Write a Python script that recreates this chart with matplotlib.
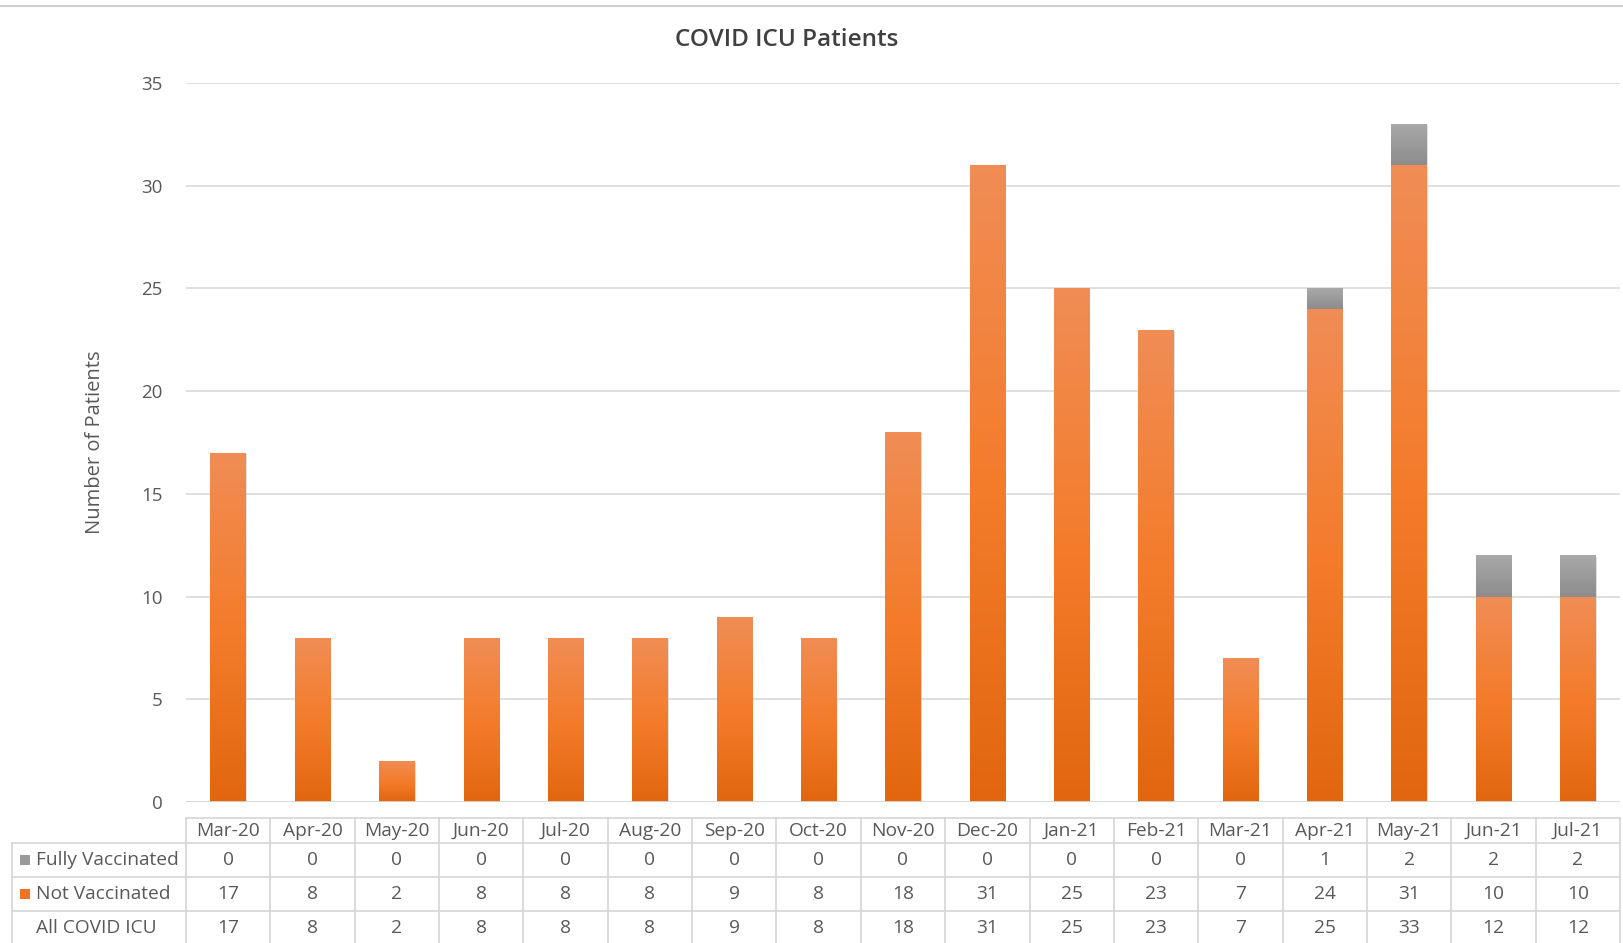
import numpy as np
import matplotlib
matplotlib.use("Agg")
from matplotlib import pyplot as plt
from matplotlib import transforms as mtransforms
from matplotlib.colors import LinearSegmentedColormap
from matplotlib.lines import Line2D

plt.rcParams['font.family'] = ['Open Sans', 'DejaVu Sans']

months = ['Mar-20', 'Apr-20', 'May-20', 'Jun-20', 'Jul-20', 'Aug-20', 'Sep-20',
          'Oct-20', 'Nov-20', 'Dec-20', 'Jan-21', 'Feb-21', 'Mar-21', 'Apr-21',
          'May-21', 'Jun-21', 'Jul-21']
fully_vacc = [0, 0, 0, 0, 0, 0, 0, 0, 0, 0, 0, 0, 0, 1, 2, 2, 2]
not_vacc = [17, 8, 2, 8, 8, 8, 9, 8, 18, 31, 25, 23, 7, 24, 31, 10, 10]
all_icu = [17, 8, 2, 8, 8, 8, 9, 8, 18, 31, 25, 23, 7, 25, 33, 12, 12]
row_names = ['Fully Vaccinated', 'Not Vaccinated', 'All COVID ICU']

TXT = '#595959'
GRID = '#D9D9D9'
orange_cmap = LinearSegmentedColormap.from_list(
    'og', ['#E2660F', '#F47C2B', '#F08D55'])
gray_cmap = LinearSegmentedColormap.from_list('gr', ['#8C8C8C', '#A9A9A9'])

W, H = 1623, 943
fig = plt.figure(figsize=(W / 100, H / 100), dpi=100)


def fy(py):
    # pixel row (from top) -> figure fraction
    return 1 - py / H


ax = fig.add_axes([186 / W, fy(802), (1620 - 186) / W, (802 - 83) / H])
x = np.arange(len(months))
ax.set_xlim(-0.5, len(months) - 0.5)
ax.set_ylim(0, 35)
ax.set_yticks(range(0, 36, 5))
ax.yaxis.grid(True, color=GRID, lw=1.2)
ax.set_axisbelow(True)
for s in ax.spines.values():
    s.set_visible(False)
ax.tick_params(axis='y', length=0, pad=17, labelsize=13.5, labelcolor=TXT)
ax.tick_params(axis='x', length=0, labelbottom=False)
ax.set_ylabel('Number of Patients', fontsize=14.5, color=TXT, labelpad=26)

bw = 0.42
b1 = ax.bar(x, not_vacc, bw, color='none', zorder=2)
b2 = ax.bar(x, fully_vacc, bw, bottom=not_vacc, color='none', zorder=2)

grad = np.linspace(0, 1, 256).reshape(-1, 1)
for bars, cmap in ((b1, orange_cmap), (b2, gray_cmap)):
    for p in bars:
        h = p.get_height()
        if h <= 0:
            continue
        x0, y0 = p.get_x(), p.get_y()
        # faint shadow
        ax.add_patch(plt.Rectangle((x0 + 0.012, y0), p.get_width(), h - 0.05,
                                   color='#C8CDD2', alpha=0.6, zorder=1.5,
                                   lw=0))
        im = ax.imshow(grad, cmap=cmap, aspect='auto', origin='lower',
                       extent=(x0, x0 + p.get_width(), y0, y0 + h), zorder=2.5)
        im.set_clip_path(p)
ax.set_xlim(-0.5, len(months) - 0.5)
ax.set_ylim(0, 35)
ax.axhline(0, color=GRID, lw=1.2, zorder=3)

fig.text(787 / W, fy(40), 'COVID ICU Patients', ha='center', va='center',
         fontsize=17.5, fontweight='semibold', color='#404040')

# top frame line
fig.add_artist(Line2D([0, 1], [fy(6), fy(6)], transform=fig.transFigure,
                      color='#D0D0D0', lw=1.5))

# data table under the plot
tr = mtransforms.blended_transform_factory(ax.transData, fig.transFigure)
LINE = '#D6D6D6'
rows_y = [818, 843, 877, 911, 945]
xl, xr = -0.5, len(months) - 0.5
for i, py in enumerate(rows_y):
    fig.add_artist(Line2D([xl, xr], [fy(py), fy(py)], transform=tr,
                          color=LINE, lw=1.2))
    if i >= 1:
        fig.add_artist(Line2D([12 / W, 187 / W], [fy(py), fy(py)],
                              transform=fig.transFigure, color=LINE, lw=1.2))
for k in range(len(months) + 1):
    fig.add_artist(Line2D([k - 0.5, k - 0.5], [fy(818), fy(945)],
                          transform=tr, color=LINE, lw=1.2))
fig.add_artist(Line2D([12 / W, 12 / W], [fy(843), fy(945)],
                      transform=fig.transFigure, color=LINE, lw=1.2))

FS = 13.8
hdr_c = (818 + 843) / 2
for i, m in enumerate(months):
    fig.text(i, fy(hdr_c), m, transform=tr, ha='center', va='center',
             fontsize=FS, color=TXT)
series = [fully_vacc, not_vacc, all_icu]
for r, vals in enumerate(series):
    cy = (rows_y[r + 1] + rows_y[r + 2]) / 2
    for i, v in enumerate(vals):
        fig.text(i, fy(cy), str(v), transform=tr, ha='center', va='center',
                 fontsize=FS, color=TXT)
    fig.text(36 / W, fy(cy), row_names[r], ha='left', va='center',
             fontsize=FS, color=TXT)
key_colors = ['#9A9A9A', '#EE7423']
for r, c in enumerate(key_colors):
    cy = (rows_y[r + 1] + rows_y[r + 2]) / 2
    fig.add_artist(plt.Rectangle((20 / W, fy(cy + 5)), 10 / W, 10 / H,
                                 transform=fig.transFigure, color=c, lw=0))

fig.savefig('out.png', dpi=100)
